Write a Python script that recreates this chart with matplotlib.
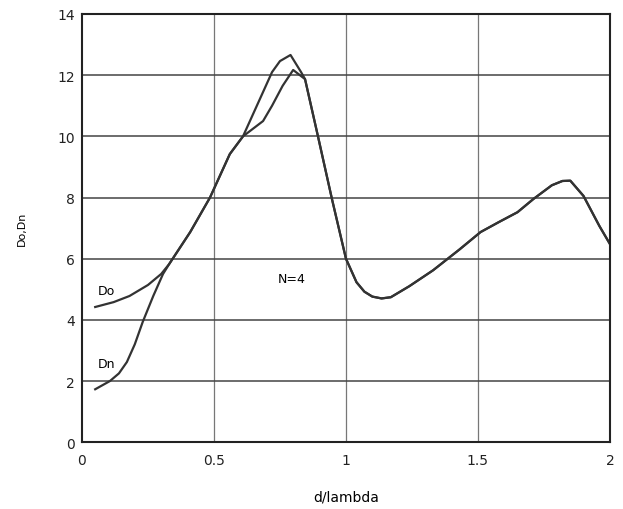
import matplotlib
matplotlib.use('Agg')
import matplotlib.pyplot as plt

# shared tail after the two curves merge
tail_x = [0.894, 0.947, 1.0, 1.04, 1.07, 1.10, 1.135, 1.17, 1.24, 1.33, 1.43, 1.51, 1.58, 1.65, 1.71, 1.78, 1.82, 1.85, 1.9, 1.96, 2.0]
tail_y = [10.0, 7.95, 6.0, 5.23, 4.92, 4.76, 4.7, 4.74, 5.1, 5.62, 6.3, 6.87, 7.2, 7.52, 7.95, 8.4, 8.54, 8.55, 8.05, 7.07, 6.48]

do_x = [0.05, 0.12, 0.18, 0.25, 0.30, 0.33, 0.41, 0.485, 0.56, 0.61, 0.686, 0.72, 0.76, 0.80, 0.845] + tail_x
do_y = [4.42, 4.58, 4.78, 5.14, 5.5, 5.82, 6.87, 8.0, 9.42, 10.0, 10.5, 11.0, 11.65, 12.17, 11.87] + tail_y

dn_x = [0.05, 0.106, 0.14, 0.17, 0.2, 0.23, 0.27, 0.307, 0.33, 0.41, 0.485, 0.56, 0.61, 0.686, 0.72, 0.75, 0.79, 0.83, 0.845] + tail_x
dn_y = [1.73, 2.0, 2.25, 2.62, 3.2, 3.93, 4.78, 5.5, 5.82, 6.87, 8.0, 9.42, 10.0, 11.45, 12.1, 12.46, 12.66, 12.1, 11.87] + tail_y

fig = plt.figure(figsize=(6.23, 5.10), dpi=100)
ax = fig.add_axes([0.1316, 0.131, 0.8474, 0.8396])

ax.plot(do_x, do_y, color='#333333', lw=1.6)
ax.plot(dn_x, dn_y, color='#333333', lw=1.6)

ax.set_xlim(0, 2)
ax.set_ylim(0, 14)
ax.set_xticks([0, 0.5, 1, 1.5, 2])
ax.set_xticklabels(['0', '0.5', '1', '1.5', '2'])
ax.set_yticks(range(0, 15, 2))

for v in [0.5, 1, 1.5]:
    ax.axvline(v, color='#777777', lw=0.9, zorder=0)
for v in range(2, 14, 2):
    ax.axhline(v, color='#444444', lw=1.1, zorder=0)

for s in ax.spines.values():
    s.set_color('#222222')
    s.set_linewidth(1.5)
ax.tick_params(length=0, labelsize=10, pad=8, colors='#222222')
ax.tick_params(axis='y', pad=5)

ax.text(0.06, 4.85, 'Do', fontsize=9)
ax.text(0.06, 2.45, 'Dn', fontsize=9)
ax.text(0.74, 5.25, 'N=4', fontsize=9)

ax.set_xlabel('d/lambda', fontsize=10, labelpad=16)
ax.set_ylabel('Do,Dn', fontsize=8, labelpad=22)

fig.savefig('out.png', dpi=100)
